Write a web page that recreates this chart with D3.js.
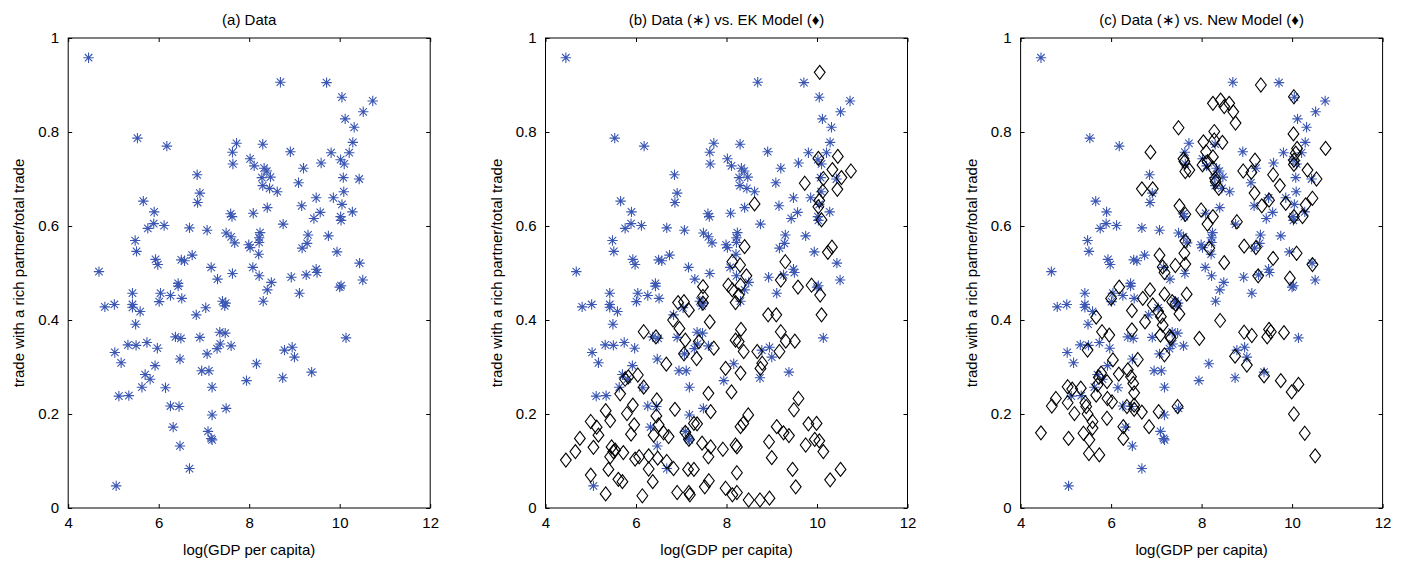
<!DOCTYPE html>
<html>
<head>
<meta charset="utf-8">
<script src="https://cdn.jsdelivr.net/npm/d3@7"></script>
<style>
body { margin: 0; background: #fff; }
svg { display: block; font-family: "Liberation Sans", Arial, sans-serif; }
</style>
</head>
<body>
<svg id="chart" width="1405" height="563"></svg>
<script>
// Tick values and panel titles
const xTicks = [4, 6, 8, 10, 12];
const yTicks = [0, 0.2, 0.4, 0.6, 0.8, 1];
const titles = ["(a) Data", "(b) Data (\u2217) vs. EK Model (\u2666)", "(c) Data (\u2217) vs. New Model (\u2666)"];

// Observed data: [log GDP per capita, share of trade with rich partner]
const dataPts = [
[4.45,0.958],[5.53,0.787],[6.18,0.770],[7.72,0.776],[7.63,0.757],[7.64,0.732],[6.85,0.709],[6.91,0.670],[6.86,0.650],[5.66,0.653],
[5.90,0.630],[5.89,0.605],[5.76,0.595],[6.12,0.601],[6.68,0.596],[7.07,0.591],[7.59,0.626],[7.62,0.620],[5.48,0.569],[5.51,0.546],
[5.93,0.529],[5.98,0.518],[6.50,0.528],[6.57,0.526],[6.74,0.538],[7.16,0.512],[7.49,0.585],[7.60,0.577],[7.68,0.564],[4.68,0.503],
[7.63,0.499],[8.69,0.906],[9.71,0.905],[10.05,0.874],[10.73,0.866],[10.52,0.843],[10.12,0.828],[10.32,0.810],[10.29,0.778],[8.30,0.774],
[8.91,0.758],[9.81,0.756],[10.21,0.756],[10.02,0.741],[10.10,0.732],[9.59,0.734],[9.20,0.723],[8.02,0.743],[8.11,0.728],[8.33,0.723],
[8.39,0.717],[8.28,0.703],[8.47,0.704],[8.30,0.686],[8.45,0.680],[8.62,0.673],[9.09,0.692],[10.08,0.703],[10.43,0.700],[9.48,0.660],
[9.86,0.660],[10.09,0.673],[10.05,0.646],[10.28,0.630],[8.09,0.627],[8.40,0.639],[9.16,0.643],[9.57,0.629],[9.43,0.616],[10.02,0.620],
[10.03,0.612],[8.75,0.604],[8.24,0.586],[8.22,0.575],[8.22,0.565],[7.99,0.560],[8.02,0.554],[8.21,0.540],[9.30,0.581],[9.28,0.563],
[9.17,0.553],[9.75,0.579],[9.94,0.545],[10.44,0.521],[8.08,0.512],[9.48,0.508],[9.50,0.501],[8.22,0.494],[8.49,0.480],[8.93,0.491],
[9.26,0.496],[8.40,0.464],[8.31,0.440],[9.11,0.457],[10.00,0.470],[10.03,0.473],[10.51,0.485],[10.14,0.362],[8.78,0.336],[8.95,0.342],
[9.00,0.321],[8.16,0.307],[7.94,0.271],[8.74,0.277],[9.38,0.289],[7.30,0.487],[6.43,0.478],[6.43,0.472],[5.42,0.457],[6.04,0.457],
[6.26,0.452],[6.51,0.446],[6.01,0.439],[4.81,0.428],[5.02,0.433],[5.42,0.433],[5.42,0.427],[5.59,0.418],[7.41,0.440],[7.48,0.436],
[7.46,0.430],[7.04,0.426],[6.83,0.411],[5.49,0.391],[6.37,0.364],[6.49,0.361],[6.91,0.363],[7.35,0.374],[7.47,0.372],[7.36,0.349],
[7.29,0.339],[7.60,0.345],[5.32,0.347],[5.50,0.346],[5.74,0.352],[5.97,0.340],[5.03,0.331],[5.17,0.309],[6.47,0.317],[7.07,0.328],
[5.92,0.303],[5.70,0.284],[5.81,0.274],[5.63,0.257],[6.15,0.256],[6.95,0.292],[7.11,0.292],[7.18,0.257],[5.12,0.238],[5.34,0.239],
[6.26,0.217],[6.45,0.216],[7.49,0.212],[7.18,0.198],[6.32,0.172],[7.09,0.163],[7.16,0.148],[7.18,0.145],[6.47,0.132],[6.68,0.084],
[5.06,0.047]
];

// EK model predictions
const ekPts = [
[10.06,0.927],[10.03,0.744],[10.46,0.748],[10.34,0.720],[10.75,0.717],[10.14,0.701],[10.54,0.703],[9.73,0.691],[10.13,0.674],[10.45,0.678],
[10.05,0.654],[10.03,0.641],[10.10,0.613],[8.62,0.647],[8.40,0.556],[10.24,0.544],[10.33,0.555],[9.30,0.524],[8.30,0.517],[8.13,0.524],
[8.44,0.494],[9.20,0.485],[9.58,0.470],[9.88,0.474],[10.07,0.453],[8.31,0.474],[8.27,0.453],[8.92,0.411],[9.10,0.411],[10.10,0.411],
[8.32,0.380],[9.20,0.375],[9.31,0.355],[9.51,0.355],[8.27,0.354],[8.38,0.333],[8.68,0.333],[9.17,0.333],[8.79,0.308],[8.75,0.297],
[8.31,0.287],[9.59,0.233],[9.49,0.209],[8.48,0.198],[8.37,0.180],[8.31,0.173],[9.11,0.173],[9.26,0.160],[9.38,0.154],[9.81,0.179],
[9.99,0.180],[9.95,0.146],[10.05,0.143],[9.75,0.134],[10.14,0.120],[8.94,0.141],[8.23,0.130],[9.00,0.107],[9.46,0.082],[9.53,0.045],
[10.52,0.082],[10.29,0.060],[8.23,0.075],[8.49,0.017],[8.74,0.017],[8.95,0.021],[8.23,0.033],[7.48,0.471],[8.04,0.474],[8.13,0.464],
[6.93,0.437],[7.06,0.439],[7.48,0.450],[7.17,0.421],[7.48,0.436],[6.82,0.400],[7.63,0.396],[8.20,0.437],[6.96,0.382],[6.17,0.375],
[6.44,0.364],[7.09,0.357],[7.39,0.354],[7.72,0.340],[8.20,0.357],[7.06,0.328],[7.34,0.318],[6.67,0.306],[7.98,0.297],[6.04,0.283],
[5.83,0.279],[5.76,0.274],[6.17,0.257],[5.65,0.243],[8.11,0.247],[7.60,0.244],[6.46,0.230],[5.93,0.219],[5.80,0.201],[6.86,0.210],
[7.65,0.205],[5.33,0.207],[5.43,0.186],[6.45,0.196],[5.00,0.184],[5.13,0.172],[4.76,0.148],[5.17,0.155],[5.96,0.177],[6.50,0.177],
[6.61,0.160],[5.89,0.157],[6.39,0.155],[6.72,0.152],[7.28,0.180],[7.35,0.179],[7.09,0.161],[7.17,0.146],[7.46,0.138],[7.65,0.130],
[7.60,0.109],[7.92,0.125],[8.20,0.134],[4.66,0.120],[5.06,0.129],[5.46,0.130],[5.50,0.120],[5.43,0.109],[5.54,0.123],[5.72,0.118],
[5.98,0.104],[6.07,0.109],[6.28,0.111],[6.48,0.106],[6.28,0.083],[5.39,0.082],[4.45,0.102],[6.68,0.099],[6.83,0.084],[7.15,0.082],
[7.28,0.082],[5.00,0.070],[5.61,0.061],[5.70,0.056],[6.37,0.056],[7.61,0.058],[7.52,0.045],[5.33,0.030],[6.14,0.026],[6.91,0.033],
[7.17,0.033],[7.19,0.028],[7.98,0.042],[8.13,0.028]
];

// New model predictions
const newPts = [
[8.25,0.861],[7.49,0.809],[8.04,0.779],[8.28,0.801],[8.28,0.783],[6.87,0.757],[7.60,0.743],[7.62,0.737],[8.10,0.758],[8.25,0.747],
[8.02,0.730],[8.13,0.737],[7.64,0.716],[7.73,0.719],[8.25,0.723],[8.30,0.701],[6.68,0.679],[6.92,0.679],[7.51,0.643],[7.64,0.625],
[7.99,0.634],[8.13,0.604],[8.25,0.620],[7.64,0.568],[8.17,0.553],[7.07,0.538],[7.62,0.542],[7.64,0.519],[7.42,0.516],[7.14,0.513],
[7.18,0.501],[9.31,0.900],[10.04,0.875],[8.42,0.868],[8.61,0.861],[8.50,0.854],[8.70,0.843],[8.75,0.819],[10.03,0.796],[10.74,0.765],
[8.46,0.778],[10.11,0.765],[10.08,0.755],[10.04,0.740],[10.04,0.731],[9.18,0.740],[8.92,0.717],[9.10,0.714],[9.58,0.709],[9.73,0.686],
[10.34,0.719],[10.54,0.700],[8.31,0.694],[8.38,0.680],[9.17,0.670],[9.33,0.643],[9.49,0.655],[9.86,0.648],[10.45,0.659],[10.30,0.645],
[10.23,0.620],[10.04,0.620],[8.78,0.609],[8.94,0.557],[9.20,0.554],[9.58,0.531],[10.10,0.542],[8.50,0.522],[10.45,0.518],[9.25,0.494],
[9.95,0.489],[8.41,0.399],[8.94,0.374],[9.11,0.367],[9.49,0.380],[9.53,0.375],[9.45,0.364],[9.82,0.373],[8.74,0.323],[9.00,0.304],
[9.38,0.281],[9.75,0.271],[10.14,0.263],[9.99,0.247],[10.04,0.200],[10.28,0.159],[10.51,0.111],[6.18,0.470],[6.00,0.446],[6.86,0.464],
[6.70,0.446],[7.18,0.455],[7.67,0.455],[7.35,0.439],[7.42,0.434],[6.46,0.420],[6.92,0.432],[7.04,0.418],[7.10,0.407],[5.67,0.406],
[6.75,0.396],[7.51,0.413],[7.14,0.389],[5.80,0.375],[5.96,0.368],[6.46,0.379],[7.09,0.368],[7.30,0.365],[7.32,0.361],[7.95,0.361],
[5.48,0.336],[7.18,0.326],[6.04,0.315],[6.59,0.316],[5.78,0.287],[5.73,0.278],[6.17,0.285],[6.37,0.294],[6.44,0.279],[5.91,0.269],
[6.49,0.265],[6.51,0.245],[5.04,0.258],[5.14,0.253],[5.33,0.255],[5.67,0.240],[5.70,0.262],[5.92,0.233],[6.02,0.226],[4.78,0.233],
[4.69,0.217],[5.04,0.224],[5.43,0.224],[5.45,0.216],[5.48,0.200],[5.19,0.201],[5.91,0.191],[6.35,0.216],[6.51,0.219],[6.51,0.210],
[6.68,0.204],[7.05,0.205],[7.47,0.216],[5.59,0.184],[5.59,0.170],[6.27,0.173],[6.84,0.173],[5.06,0.148],[5.39,0.159],[5.52,0.145],
[6.27,0.148],[5.51,0.116],[5.74,0.113],[4.45,0.160]
];

const models = [null, ekPts, newPts];

const svg = d3.select("#chart");
const plotTop = 38, plotBottom = 508, plotW = 362;
const lefts = [68.2, 545.5, 1020.6];
const starColor = "#3b57b2";

// MATLAB-like asterisk (8 arms) and diamond markers
const asterisk = {
    draw(ctx) {
        const r = 5.2, d = r * 0.72;
        ctx.moveTo(-r, 0); ctx.lineTo(r, 0);
        ctx.moveTo(0, -r); ctx.lineTo(0, r);
        ctx.moveTo(-d, -d); ctx.lineTo(d, d);
        ctx.moveTo(-d, d); ctx.lineTo(d, -d);
    }
};
const diamond = {
    draw(ctx) {
        const w = 5.4, h = 7;
        ctx.moveTo(0, -h); ctx.lineTo(w, 0); ctx.lineTo(0, h); ctx.lineTo(-w, 0); ctx.closePath();
    }
};

const y = d3.scaleLinear().domain([0, 1]).range([plotBottom, plotTop]);

lefts.forEach((left, i) => {
    const x = d3.scaleLinear().domain([4, 12]).range([left, left + plotW]);
    const g = svg.append("g");

    // Markers: data stars first, model diamonds on top
    g.selectAll(".star")
        .data(dataPts)
        .enter()
        .append("path")
        .attr("transform", d => `translate(${x(d[0])},${y(d[1])})`)
        .attr("d", d3.symbol().type(asterisk))
        .attr("fill", "none")
        .attr("stroke", starColor)
        .attr("stroke-width", 1.1);

    if (models[i]) {
        g.selectAll(".diam")
            .data(models[i])
            .enter()
            .append("path")
            .attr("transform", d => `translate(${x(d[0])},${y(d[1])})`)
            .attr("d", d3.symbol().type(diamond))
            .attr("fill", "none")
            .attr("stroke", "#000")
            .attr("stroke-width", 1.1);
    }

    // Axes with inward ticks on all four sides
    const bottomAxis = g.append("g")
        .attr("transform", `translate(0,${plotBottom})`)
        .call(d3.axisBottom(x).tickValues(xTicks).tickSize(-4).tickSizeOuter(0).tickPadding(9).tickFormat(d => d));
    const topAxis = g.append("g")
        .attr("transform", `translate(0,${plotTop})`)
        .call(d3.axisTop(x).tickValues(xTicks).tickSize(-4).tickSizeOuter(0).tickFormat(""));
    const leftAxis = g.append("g")
        .attr("transform", `translate(${left},0)`)
        .call(d3.axisLeft(y).tickValues(yTicks).tickSize(-4).tickSizeOuter(0).tickPadding(9).tickFormat(d => d));
    const rightAxis = g.append("g")
        .attr("transform", `translate(${left + plotW},0)`)
        .call(d3.axisRight(y).tickValues(yTicks).tickSize(-4).tickSizeOuter(0).tickFormat(""));

    [bottomAxis, topAxis, leftAxis, rightAxis].forEach(a => {
        a.select(".domain").remove();
        a.selectAll("line").attr("stroke", "#000");
        a.selectAll("text").attr("font-size", 15).attr("fill", "#000")
            .attr("font-family", "Liberation Sans, Arial, sans-serif");
    });

    // Plot box
    g.append("rect")
        .attr("x", left)
        .attr("y", plotTop)
        .attr("width", plotW)
        .attr("height", plotBottom - plotTop)
        .attr("fill", "none")
        .attr("stroke", "#000")
        .attr("stroke-width", 1);

    // Title and axis labels
    g.append("text")
        .attr("x", left + plotW / 2)
        .attr("y", 25)
        .attr("text-anchor", "middle")
        .attr("font-size", 15)
        .text(titles[i]);

    g.append("text")
        .attr("x", left + plotW / 2)
        .attr("y", 555)
        .attr("text-anchor", "middle")
        .attr("font-size", 15)
        .text("log(GDP per capita)");

    g.append("text")
        .attr("transform", `translate(${left - 44},${(plotTop + plotBottom) / 2}) rotate(-90)`)
        .attr("text-anchor", "middle")
        .attr("font-size", 15)
        .text("trade with a rich partner/total trade");
});
</script>
</body>
</html>
